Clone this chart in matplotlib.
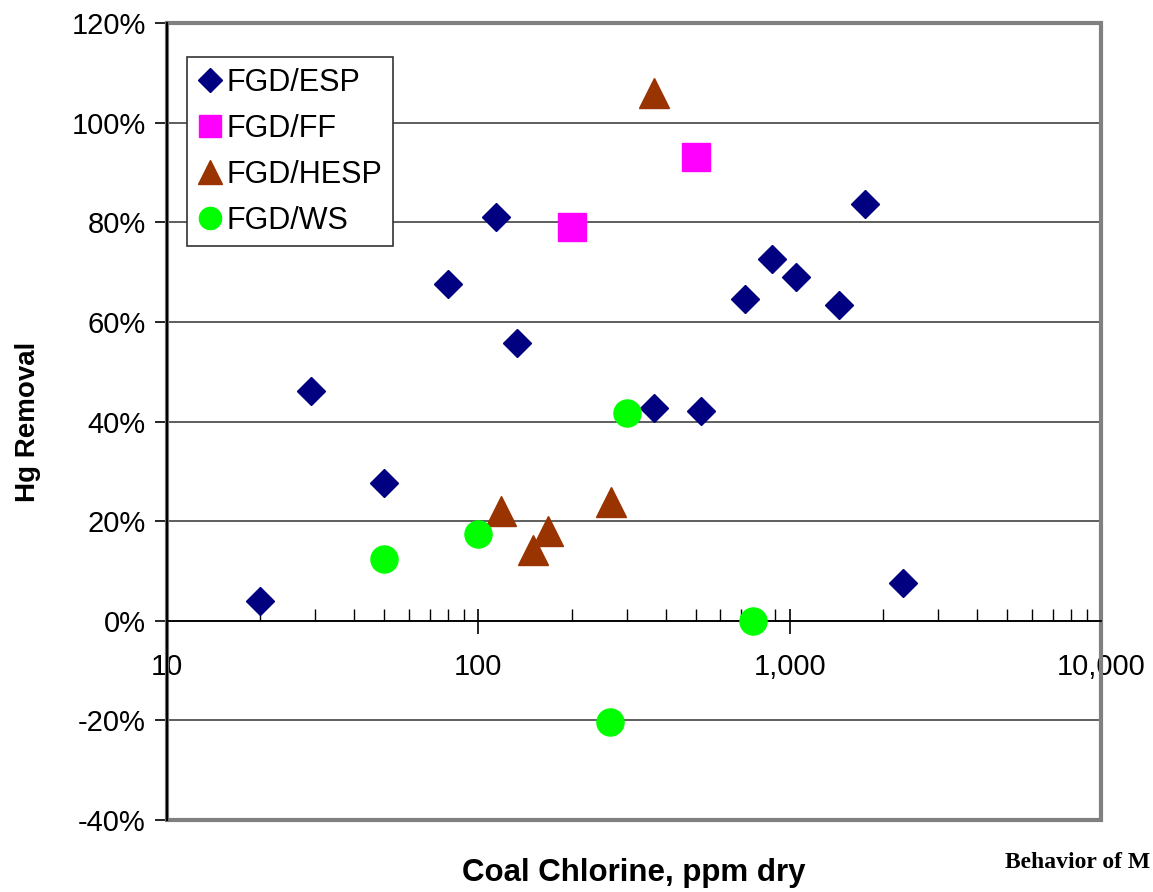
import matplotlib
matplotlib.use("Agg")
import matplotlib.pyplot as plt
from matplotlib.ticker import FixedLocator, FuncFormatter, LogLocator, NullFormatter, PercentFormatter
from matplotlib.patches import Rectangle

plt.rcParams["font.family"] = ["Liberation Sans", "DejaVu Sans"]
plt.rcParams["axes.unicode_minus"] = False

# coal chlorine (ppm dry) vs Hg removal (%) by control configuration
esp_cl = [20, 29, 50, 80, 114, 133, 367, 518, 720, 880, 1050, 1440, 1750, 2315]
esp_hg = [4.0, 46.2, 27.6, 67.6, 81.1, 55.7, 42.7, 42.2, 64.6, 72.6, 69.1, 63.4, 83.6, 7.6]

ff_cl = [200, 502]
ff_hg = [79.1, 93.1]

hesp_cl = [367, 118, 150, 168, 268]
hesp_hg = [106.0, 22.0, 14.2, 18.1, 23.8]

ws_cl = [50, 100, 300, 762, 266]
ws_hg = [12.4, 17.4, 41.7, 0.0, -20.3]

x_ticks = [10, 100, 1000, 10000]
y_ticks = [-40, -20, 0, 20, 40, 60, 80, 100, 120]

fig = plt.figure(figsize=(11.53, 8.92), dpi=100)
ax = fig.add_axes([0.1446, 0.0807, 0.8103, 0.8935])

ax.set_xscale("log")
ax.set_xlim(10, 10000)
ax.set_ylim(-40, 120)

# horizontal gridlines
for y in y_ticks:
    ax.axhline(y, color="#333333", lw=1.1, zorder=1)

ax.plot(esp_cl, esp_hg, ls="none", marker="D", ms=14.6, color="#000080", mec="#000080", label="FGD/ESP", zorder=3)
ax.plot(ff_cl, ff_hg, ls="none", marker="s", ms=20, color="#FF00FF", mec="#FF00FF", label="FGD/FF", zorder=3)
ax.plot(hesp_cl, hesp_hg, ls="none", marker="^", ms=21, color="#993300", mec="#993300", label="FGD/HESP", zorder=3)
ax.plot(ws_cl, ws_hg, ls="none", marker="o", ms=19.5, color="#00FF00", mec="#00FF00", label="FGD/WS", zorder=3)

# x axis crosses at 0 %
ax.spines["bottom"].set_position(("data", 0))
ax.spines["bottom"].set_linewidth(1.3)
ax.spines["top"].set_visible(False)
ax.spines["right"].set_visible(False)
ax.spines["left"].set_linewidth(1.6)
ax.spines["left"].set_zorder(4)

# grey plot-area frame
ax.add_patch(Rectangle((0, 0), 1, 1, transform=ax.transAxes, fill=False,
                       ec="#808080", lw=3, clip_on=False, zorder=2))

ax.xaxis.set_major_locator(FixedLocator(x_ticks))
ax.xaxis.set_minor_locator(LogLocator(base=10, subs=range(2, 10)))
ax.xaxis.set_minor_formatter(NullFormatter())
ax.xaxis.set_major_formatter(FuncFormatter(lambda v, p: f"{int(v):,}"))
ax.tick_params(axis="x", which="major", direction="inout", length=18, width=1.2, pad=14, labelsize=21)
ax.tick_params(axis="x", which="minor", direction="in", length=9, width=1.0)

ax.yaxis.set_major_locator(FixedLocator(y_ticks))
ax.yaxis.set_major_formatter(PercentFormatter(100, decimals=0))
ax.tick_params(axis="y", direction="out", length=9, width=1.2, pad=6, labelsize=21)

ax.set_xlabel("Coal Chlorine, ppm dry", fontsize=22.5, fontweight="bold")
ax.xaxis.set_label_coords(0.5, -0.048)
ax.set_ylabel("Hg Removal", fontsize=20, fontweight="bold")
ax.yaxis.set_label_coords(-0.135, 0.5)

leg = ax.legend(loc="upper left", bbox_to_anchor=(0.0214, 0.957), borderaxespad=0,
                fontsize=22, frameon=True, fancybox=False, edgecolor="#333333",
                handlelength=0.8, handletextpad=0.15, labelspacing=0.52, borderpad=0.35,
                markerscale=0.82, framealpha=1)
leg.get_frame().set_linewidth(1.2)
leg.set_zorder(5)

fig.text(0.872, 0.027, "Behavior of M", family=["Liberation Serif", "DejaVu Serif"],
         fontweight="bold", fontsize=17)

fig.savefig("out.png", dpi=100)
